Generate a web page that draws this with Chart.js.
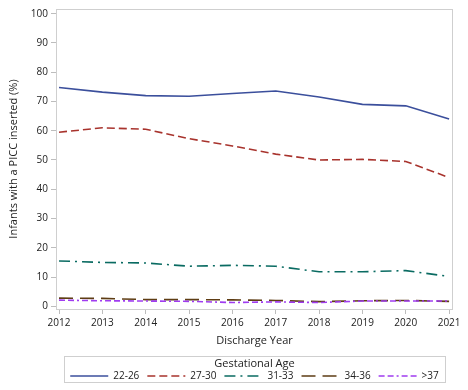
<!DOCTYPE html>
<html>
<head>
<meta charset="utf-8">
<script src="https://cdn.jsdelivr.net/npm/chart.js@4"></script>
<style>
html,body{margin:0;padding:0;background:#fff;}
#wrap{width:468px;height:390px;position:relative;}
</style>
</head>
<body>
<div id="wrap"><canvas id="c" width="468" height="390"></canvas></div>
<script>
const years = [2012, 2013, 2014, 2015, 2016, 2017, 2018, 2019, 2020, 2021];
const yTicks = [0, 10, 20, 30, 40, 50, 60, 70, 80, 90, 100];
const seriesNames = ["22-26", "27-30", "31-33", "34-36", ">37"];
const ga22_26 = [74.8, 73.2, 72.0, 71.8, 72.7, 73.6, 71.5, 69.0, 68.5, 64.0];
const ga27_30 = [59.5, 61.0, 60.5, 57.3, 54.8, 52.0, 50.0, 50.2, 49.5, 44.0];
const ga31_33 = [15.5, 15.0, 14.8, 13.7, 14.0, 13.7, 11.8, 11.8, 12.2, 10.2];
const ga34_36 = [2.8, 2.7, 2.3, 2.3, 2.2, 2.0, 1.6, 1.9, 2.0, 1.7];
const ga37 = [2.1, 1.9, 1.8, 1.7, 1.3, 1.5, 1.3, 1.8, 1.8, 1.8];
const legendTitle = "Gestational Age";
const xTitle = "Discharge Year";
const yTitle = "Infants with a PICC inserted (%)";

const FONT = "'Open Sans', 'DejaVu Sans', sans-serif";
const styles = [
  {color: "#3B4F9C", dash: []},
  {color: "#A8332D", dash: [8, 4]},
  {color: "#0A6B62", dash: [11, 5, 2, 5]},
  {color: "#5E3D14", dash: [14, 7]},
  {color: "#A03CF0", dash: [6, 3, 6, 3, 2, 3]}
];
const allSeries = [ga22_26, ga27_30, ga31_33, ga34_36, ga37];

const datasets = allSeries.map((vals, i) => ({
  label: seriesNames[i],
  data: years.map((y, j) => ({x: y, y: vals[j]})),
  borderColor: styles[i].color,
  backgroundColor: styles[i].color,
  borderDash: styles[i].dash,
  borderWidth: 1.6,
  pointRadius: 0,
  tension: 0,
  fill: false
}));
// draw lower series first so order matches reference overlap
datasets.reverse();

const framePlugin = {
  id: 'frame',
  beforeDatasetsDraw(chart) {
    const {ctx, chartArea: a} = chart;
    ctx.save();
    ctx.strokeStyle = '#cfcfcf';
    ctx.lineWidth = 1;
    ctx.strokeRect(Math.round(a.left) + 0.5, Math.round(a.top) + 0.5, Math.round(a.right - a.left) - 1, Math.round(a.bottom - a.top));
    ctx.restore();
  },
  afterDraw(chart) {
    const {ctx, chartArea: a} = chart;
    ctx.save();
    const lineLen = 38, gap = 5, itemGap = 8;
    ctx.font = "10px " + FONT;
    const widths = seriesNames.map(n => ctx.measureText(n).width);
    let total = 0;
    widths.forEach((w, i) => { total += lineLen + gap + w + (i < widths.length - 1 ? itemGap : 0); });
    const cx = (a.left + a.right) / 2;
    const startX = cx - total / 2;
    const boxL = Math.round(startX - 6) + 0.5, boxR = Math.round(startX + total + 6) + 0.5;
    const boxT = 356.5, boxB = 382.5;
    ctx.strokeStyle = '#cfcfcf';
    ctx.lineWidth = 1;
    ctx.strokeRect(boxL, boxT, boxR - boxL, boxB - boxT);
    ctx.fillStyle = '#222';
    ctx.font = "11px " + FONT;
    ctx.textAlign = 'center';
    ctx.textBaseline = 'middle';
    ctx.fillText(legendTitle, cx, 364);
    ctx.font = "10px " + FONT;
    ctx.textAlign = 'left';
    let x = startX;
    const ly = 376;
    seriesNames.forEach((n, i) => {
      ctx.save();
      ctx.strokeStyle = styles[i].color;
      ctx.lineWidth = 1.6;
      ctx.setLineDash(styles[i].dash);
      ctx.beginPath();
      ctx.moveTo(x, ly);
      ctx.lineTo(x + lineLen, ly);
      ctx.stroke();
      ctx.restore();
      ctx.fillStyle = '#222';
      ctx.fillText(n, x + lineLen + gap, ly);
      x += lineLen + gap + widths[i] + itemGap;
    });
    ctx.restore();
  }
};

new Chart(document.getElementById('c'), {
  type: 'line',
  data: {datasets},
  plugins: [framePlugin],
  options: {
    responsive: false,
    animation: false,
    layout: {padding: {top: 9, right: 15, left: 0, bottom: 0}},
    plugins: {legend: {display: false}, tooltip: {enabled: false}},
    scales: {
      x: {
        type: 'linear',
        min: 2011.93,
        max: 2021.09,
        afterBuildTicks: s => { s.ticks = years.map(v => ({value: v})); },
        afterFit: s => { s.height = 81; },
        border: {display: false},
        grid: {drawOnChartArea: false, drawTicks: true, tickLength: 5, color: '#bdbdbd'},
        ticks: {
          color: '#222', font: {family: FONT, size: 10}, padding: 3,
          maxRotation: 0, autoSkip: false,
          callback: v => String(v)
        },
        title: {display: true, text: xTitle, color: '#222', font: {family: FONT, size: 11}, padding: {top: 0, bottom: 42.7}}
      },
      y: {
        type: 'linear',
        min: -0.92,
        max: 101.6,
        afterBuildTicks: s => { s.ticks = yTicks.map(v => ({value: v})); },
        afterFit: s => { s.width = 56; },
        border: {display: false},
        grid: {drawOnChartArea: false, drawTicks: true, tickLength: 5, color: '#bdbdbd'},
        ticks: {color: '#222', font: {family: FONT, size: 10}, padding: 3, callback: v => String(v)},
        title: {display: true, text: yTitle, color: '#222', font: {family: FONT, size: 11}, padding: {top: 7.4, bottom: 0}}
      }
    }
  }
});
</script>
</body>
</html>
